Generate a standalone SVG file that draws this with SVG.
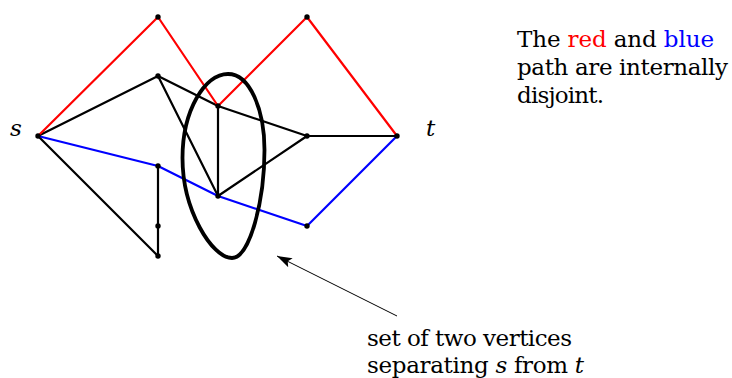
<svg xmlns="http://www.w3.org/2000/svg" width="732" height="378" viewBox="0 0 732 378">
<style>
.e{stroke:#000;stroke-width:2.2;fill:none;stroke-linecap:round}
.r{stroke:#ff0000;stroke-width:2.2;fill:none;stroke-linecap:round;stroke-linejoin:round}
.b{stroke:#0000ff;stroke-width:2.2;fill:none;stroke-linecap:round;stroke-linejoin:round}
.n{fill:#000}
</style>
<defs>
<marker id="ah" markerUnits="userSpaceOnUse" viewBox="0 0 15 10" refX="15" refY="5" markerWidth="15" markerHeight="10" orient="auto">
<path d="M0,0 L15,5 L0,10 L3,5 z" fill="#000"/>
</marker>
</defs>
<g id="connectors">
<line class="e" x1="38" y1="136" x2="158" y2="76"/>
<line class="e" x1="158" y1="76" x2="218" y2="106"/>
<line class="e" x1="218" y1="106" x2="307" y2="136"/>
<line class="e" x1="158" y1="76" x2="218" y2="196"/>
<line class="e" x1="218" y1="106" x2="218" y2="196"/>
<line class="e" x1="218" y1="196" x2="307" y2="136"/>
<line class="e" x1="307" y1="136" x2="397" y2="136"/>
<line class="e" x1="38" y1="136" x2="158" y2="256"/>
<line class="e" x1="158" y1="166" x2="158" y2="256"/>
<polyline class="r" points="38,136 158,17 218,106 307,17 397,136"/>
<polyline class="b" points="38,136 158,166 218,196 307,226 397,136"/>
<line x1="397" y1="316" x2="277" y2="256" stroke="#000" stroke-width="1" marker-end="url(#ah)"/>
</g>
<g id="separator">
<path d="M228,74 C250,74 264.5,110 264.5,150 C264.5,200 250,258 232,258 C212,258 182.5,210 182.5,158 C182.5,110 205,74 228,74 Z" fill="none" stroke="#000" stroke-width="3.8"/>
</g>
<g id="node-s"><circle class="n" cx="38" cy="136" r="2.7"/><text font-family="DejaVu Serif, serif" font-size="23" font-style="italic" x="10" y="136">s</text></g>
<g id="node-t"><circle class="n" cx="397" cy="136" r="2.7"/><text font-family="DejaVu Serif, serif" font-size="23" font-style="italic" x="426" y="136">t</text></g>
<g id="node-top1"><circle class="n" cx="158" cy="17" r="2.7"/></g>
<g id="node-top2"><circle class="n" cx="307" cy="17" r="2.7"/></g>
<g id="node-a"><circle class="n" cx="158" cy="76" r="2.7"/></g>
<g id="node-b"><circle class="n" cx="218" cy="106" r="2.7"/></g>
<g id="node-c"><circle class="n" cx="307" cy="136" r="2.7"/></g>
<g id="node-d"><circle class="n" cx="218" cy="196" r="2.7"/></g>
<g id="node-e"><circle class="n" cx="158" cy="166" r="2.7"/></g>
<g id="node-f"><circle class="n" cx="158" cy="226" r="2.7"/></g>
<g id="node-g"><circle class="n" cx="158" cy="256" r="2.7"/></g>
<g id="node-h"><circle class="n" cx="307" cy="226" r="2.7"/></g>
<g id="note" font-family="DejaVu Serif, serif" font-size="23">
<text x="517" y="47" textLength="197" lengthAdjust="spacing">The <tspan fill="#ff0000">red</tspan> and <tspan fill="#0000ff">blue</tspan></text>
<text x="517" y="75" textLength="211" lengthAdjust="spacing">path are internally</text>
<text x="517" y="103" textLength="87" lengthAdjust="spacing">disjoint.</text>
</g>
<g id="caption" font-family="DejaVu Serif, serif" font-size="23">
<text x="367" y="346" textLength="205" lengthAdjust="spacing">set of two vertices</text>
<text x="367" y="373" textLength="217" lengthAdjust="spacing">separating <tspan font-style="italic">s</tspan> from <tspan font-style="italic">t</tspan></text>
</g>
</svg>
